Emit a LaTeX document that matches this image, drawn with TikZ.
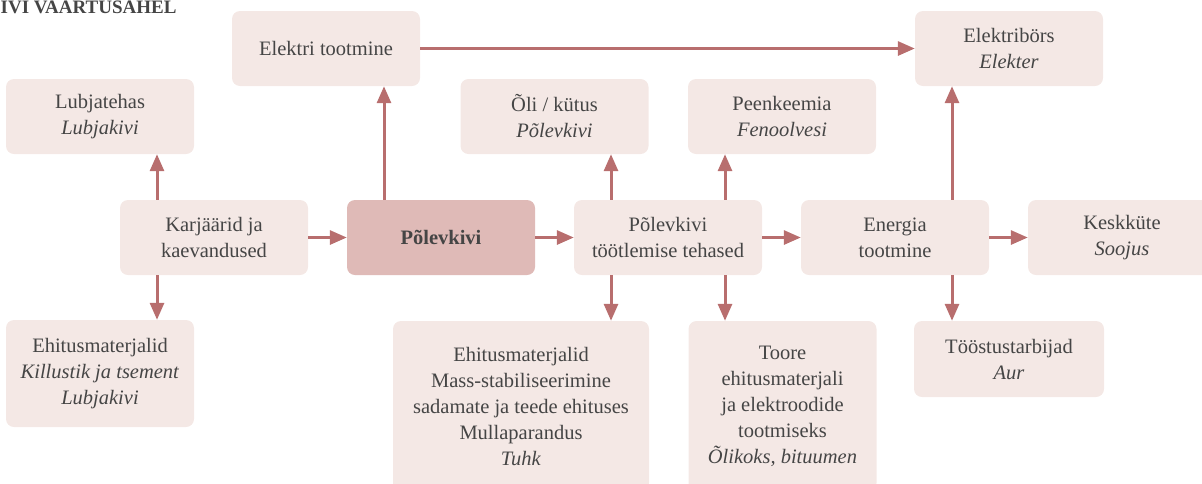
\documentclass[tikz,border=0pt]{standalone}
\usepackage{fontspec}
\setmainfont{Liberation Serif}
\usetikzlibrary{arrows.meta}
\definecolor{boxfill}{HTML}{F4E8E5}
\definecolor{keyfill}{HTML}{DFBAB7}
\definecolor{flowcol}{HTML}{B86E6E}
\definecolor{txtcol}{HTML}{454545}
\begin{document}
\begin{tikzpicture}[x=1pt, y=1pt]
\tikzset{node distance=227pt,
    block/.style={rectangle, rounded corners=8pt, fill=boxfill, text=txtcol, align=center,
        inner sep=0pt, minimum width=188pt, minimum height=75pt,
        font=\fontsize{20.5}{26}\selectfont},
    keyblock/.style={block, fill=keyfill, font=\fontsize{20.5}{26}\selectfont\bfseries},
    heading/.style={text=txtcol, inner sep=0pt, font=\fontsize{19}{22}\selectfont\bfseries},
    flow/.style={-{Triangle[length=17pt, width=14pt]}, line width=3pt, draw=flowcol}
}
  \useasboundingbox (0,0) rectangle (1202,-483);
  \node[heading, anchor=base west] (title) at (0.5,-13.5) {IVI VAARTUSAHEL};

  \node[block] (karj) at (214,-237.5) {Karjäärid ja\\kaevandused};
  \node[keyblock, right of=karj] (pol) {Põlevkivi};
  \node[block, right of=pol] (tehas) {Põlevkivi\\töötlemise tehased};
  \node[block, right of=tehas] (energia) {Energia\\tootmine};
  \node[block, right of=energia] (kesk) {Keskküte\\\textit{Soojus}};
  \node[block, above of=karj, node distance=121pt, xshift=-114pt] (lub) {Lubjatehas\\\textit{Lubjakivi}};
  \node[block, above of=pol, node distance=189pt, xshift=-115pt] (elektri) {Elektri tootmine};
  \node[block, above of=tehas, node distance=121pt, xshift=-113.5pt] (oli) {Õli / kütus\\\textit{Põlevkivi}};
  \node[block, above of=tehas, node distance=121pt, xshift=114pt] (peen) {Peenkeemia\\\textit{Fenoolvesi}};
  \node[block, above of=energia, node distance=189pt, xshift=114pt] (bors) {Elektribörs\\\textit{Elekter}};
  \node[block, below of=karj, node distance=136pt, xshift=-114pt, minimum height=107pt] (ehit) {Ehitusmaterjalid\\\textit{Killustik ja tsement}\\\textit{Lubjakivi}};
  \node[block, below of=tehas, node distance=168.5pt, xshift=-147pt, minimum width=256pt, minimum height=170pt] (tuhk) {Ehitusmaterjalid\\Mass-stabiliseerimine\\sadamate ja teede ehituses\\Mullaparandus\\\textit{Tuhk}};
  \node[block, below of=tehas, node distance=168.5pt, xshift=114.5pt, minimum height=170pt] (toore) {Toore\\ehitusmaterjali\\ja elektroodide\\tootmiseks\\\textit{Õlikoks, bituumen}};
  \node[block, below of=energia, node distance=121.5pt, xshift=114pt, minimum width=190pt, minimum height=76pt] (toostus) {Tööstustarbijad\\\textit{Aur}};

  \draw[flow] (karj) -- (pol);
  \draw[flow] (pol) -- (tehas);
  \draw[flow] (tehas) -- (energia);
  \draw[flow] (energia) -- (kesk);
  \draw[flow] (elektri) -- (bors);
  \draw[flow] ([xshift=-57pt]karj.north) -- ([xshift=-57pt]karj.north |- lub.south);
  \draw[flow] ([xshift=-57pt]karj.south) -- ([xshift=-57pt]karj.south |- ehit.north);
  \draw[flow] ([xshift=-57pt]pol.north) -- ([xshift=-57pt]pol.north |- elektri.south);
  \draw[flow] ([xshift=-57pt]tehas.north) -- ([xshift=-57pt]tehas.north |- oli.south);
  \draw[flow] ([xshift=57pt]tehas.north) -- ([xshift=57pt]tehas.north |- peen.south);
  \draw[flow] ([xshift=-57pt]tehas.south) -- ([xshift=-57pt]tehas.south |- tuhk.north);
  \draw[flow] ([xshift=57pt]tehas.south) -- ([xshift=57pt]tehas.south |- toore.north);
  \draw[flow] ([xshift=57pt]energia.north) -- ([xshift=57pt]energia.north |- bors.south);
  \draw[flow] ([xshift=57pt]energia.south) -- ([xshift=57pt]energia.south |- toostus.north);
\end{tikzpicture}
\end{document}
